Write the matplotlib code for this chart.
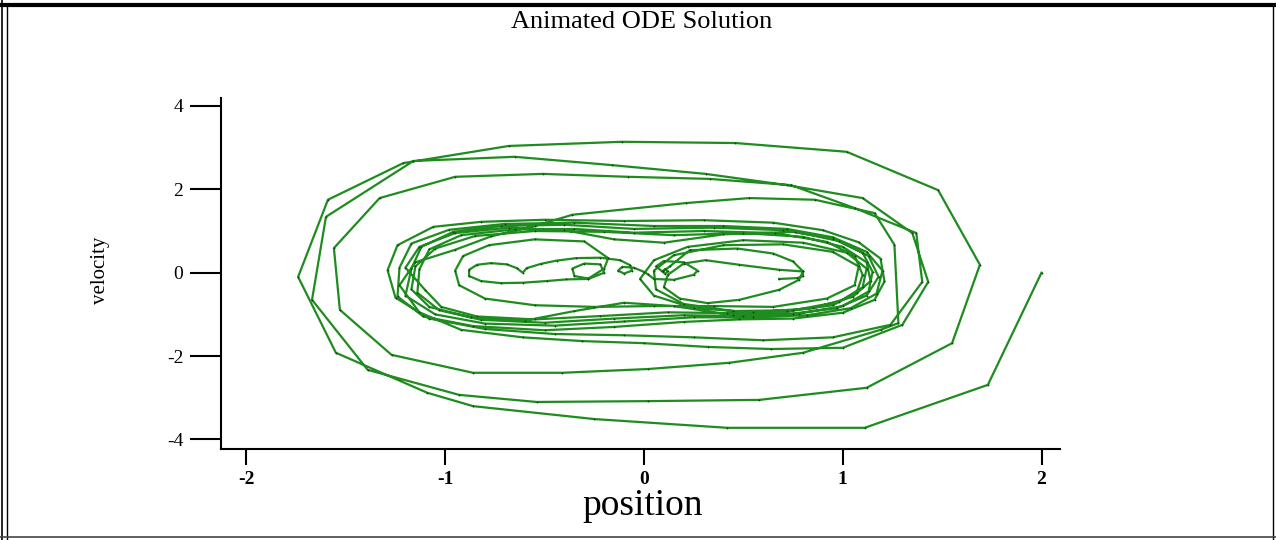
import matplotlib
matplotlib.use("Agg")
import matplotlib.pyplot as plt
from matplotlib.lines import Line2D
import numpy as np

# trajectory, in time order (position, velocity)
# outer spiral: first big swings
outer_pos = [2.00, 1.73, 1.11, 0.42, -0.25, -0.86, -1.09, -1.55, -1.74, -1.59, -1.21, -0.68, -0.11,
             0.46, 1.02, 1.48, 1.69, 1.55, 1.12,
             0.58, 0.02, -0.54, -0.93, -1.39, -1.67, -1.60, -1.16, -0.65, -0.16, 0.31, 0.72, 1.10,
             1.35, 1.43, 1.30, 1.00, 0.64, 0.32, 0.00, -0.31, -0.61, -0.92, -1.13, -1.23, -1.15, -0.95,
             -0.77, -0.55, -0.36, 0.21, 0.53, 0.86, 1.16, 1.26, 1.28,
             1.19, 0.80, 0.43, 0.02, -0.41, -0.86, -1.27, -1.53, -1.56, -1.33, -0.95, -0.51, -0.08,
             0.33, 0.74, 1.06, 1.37, 1.40, 1.24, 0.95, 0.60, 0.25, -0.10, -0.45, -0.80, -1.08, -1.25]
outer_vel = [0.00, -2.69, -3.72, -3.72, -3.51, -3.20, -2.88, -1.92, -0.10, 1.75, 2.63, 3.04, 3.14,
             3.11, 2.90, 1.98, 0.19, -1.69, -2.76,
             -3.05, -3.08, -3.10, -2.93, -2.33, -0.65, 1.34, 2.68, 2.78, 2.58, 2.37, 2.10, 1.79,
             0.95, -0.22, -1.25, -1.80, -1.83, -1.78, -1.69, -1.64, -1.55, -1.37, -0.95, -0.30, 0.25, 0.55,
             0.87, 1.12, 1.39, 1.67, 1.79, 1.75, 1.43, 0.67, -1.21,
             -1.37, -1.92, -2.16, -2.31, -2.40, -2.40, -1.97, -0.89, 0.59, 1.79, 2.30, 2.37, 2.30,
             2.25, 2.10, 1.55, 0.95, -0.22, -1.25, -1.55, -1.62, -1.55, -1.50, -1.47, -1.35, -1.10, -0.60]

# inner loops around both wells, then around the right well
inner_pos = [-1.29, -1.24, -1.06, -0.82, -0.50, -0.10, 0.30, 0.65, 0.90, 1.08, 1.19, 1.21, 1.16, 1.00,
             0.75, 0.48, 0.20, -0.15, -0.50, -0.86, -1.11, -1.24,
             -1.23, -1.17, -0.98, -0.70, -0.35, 0.05, 0.40, 0.72, 0.95, 1.12, 1.20, 1.17, 1.04,
             0.82, 0.55, 0.25, -0.10, -0.45, -0.80, -1.05, -1.20,
             -1.17, -1.12, -0.96, -0.72, -0.40, -0.05, 0.35, 0.70, 0.95, 1.10, 1.15, 1.13, 1.00,
             0.78, 0.50, 0.20, -0.15, -0.50, -0.82, -1.03, -1.14,
             -1.13, -1.08, -0.92, -0.65, -0.35, -0.05, 0.30, 0.66, 0.92, 1.06, 1.10, 1.07, 0.95,
             0.72, 0.42, 0.12, -0.22, -0.55, -0.84, -1.02, -1.10,
             -1.20, -1.13, -0.95, -0.68, -0.40, -0.15, 0.10, 0.40, 0.76, 0.98, 1.13, 1.18, 1.12, 0.97,
             0.75, 0.45, 0.15, -0.10, -0.35, -0.60, -0.87, -1.08, -1.17,
             -1.15, -1.05, -0.85, -0.55, -0.20, 0.15, 0.50, 0.80, 1.00, 1.12, 1.14, 1.05, 0.85,
             0.55, 0.25, 0.05, -0.02, 0.05, 0.22, 0.50, 0.80, 1.02, 1.12, 1.10, 0.98, 0.75, 0.45,
             0.20, 0.06, 0.05, 0.15, 0.40, 0.70, 0.95, 1.08, 1.06, 0.92, 0.65, 0.35, 0.05]
inner_vel = [0.06, 0.66, 1.10, 1.22, 1.27, 1.24, 1.26, 1.20, 1.02, 0.73, 0.34, -0.21, -0.65, -0.96,
             -1.10, -1.12, -1.18, -1.30, -1.38, -1.28, -1.05, -0.57,
             0.12, 0.70, 1.03, 1.17, 1.20, 1.12, 1.12, 1.05, 0.85, 0.50, 0.05, -0.50, -0.85,
             -1.02, -1.07, -1.07, -1.17, -1.27, -1.22, -1.00, -0.55,
             0.10, 0.62, 0.98, 1.12, 1.15, 1.05, 1.08, 1.02, 0.82, 0.48, 0.02, -0.45, -0.80,
             -0.98, -1.04, -1.02, -1.10, -1.20, -1.13, -0.90, -0.48,
             0.08, 0.56, 0.90, 1.04, 1.05, 0.96, 1.00, 0.95, 0.74, 0.40, -0.05, -0.48, -0.78,
             -0.93, -0.97, -0.95, -1.04, -1.12, -1.05, -0.82, -0.42,
             0.12, 0.62, 0.95, 1.08, 1.02, 0.80, 0.72, 0.92, 0.98, 0.76, 0.40, -0.10, -0.55, -0.85,
             -0.98, -1.02, -0.80, -0.72, -0.92, -1.15, -1.07, -0.82, -0.40,
             0.15, 0.58, 0.88, 1.00, 0.98, 0.90, 0.95, 0.86, 0.62, 0.25, -0.20, -0.58, -0.85,
             -0.95, -0.85, -0.55, -0.15, 0.30, 0.62, 0.78, 0.72, 0.48, 0.10, -0.35, -0.70, -0.90, -0.92,
             -0.75, -0.40, 0.05, 0.42, 0.66, 0.68, 0.50, 0.15, -0.30, -0.62, -0.82, -0.80, -0.80]

# left well, heart shaped loop, small loops and the end of the run
tail_pos = [-0.25, -0.55, -0.80, -0.93, -0.95, -0.91, -0.78, -0.55, -0.30, -0.18, -0.20,
            -0.28, -0.35, -0.36, -0.30, -0.22, -0.20, -0.28,
            -0.39, -0.49, -0.61, -0.72, -0.82, -0.88, -0.88, -0.84, -0.77, -0.69, -0.64, -0.61,
            -0.59, -0.52, -0.44, -0.34, -0.22, -0.12,
            -0.07, -0.06, -0.10, -0.13, -0.11, -0.05, 0.00, 0.02, 0.05, 0.15, 0.25, 0.27, 0.20,
            0.10, 0.06, 0.09, 0.106, 0.12, 0.106, 0.094, 0.13,
            0.23, 0.47, 0.65, 0.75, 0.80, 0.78, 0.68, 0.48, 0.32, 0.18, 0.10, 0.12, 0.20,
            0.31, 0.48, 0.68, 0.80, 0.80, 0.77, 0.68]
tail_vel = [-0.82, -0.78, -0.62, -0.30, 0.05, 0.40, 0.66, 0.80, 0.75, 0.35, 0.10,
            -0.14, -0.08, 0.10, 0.22, 0.20, 0.00, -0.15,
            -0.16, -0.20, -0.24, -0.25, -0.20, -0.08, 0.07, 0.19, 0.23, 0.20, 0.11, 0.00,
            0.11, 0.21, 0.29, 0.35, 0.36, 0.30,
            0.18, 0.05, -0.02, 0.05, 0.14, 0.12, 0.02, -0.04, -0.15, -0.17, -0.05, 0.05, 0.25,
            0.28, 0.15, 0.04, -0.025, 0.03, 0.085, 0.03, 0.15,
            0.54, 0.58, 0.46, 0.27, 0.03, -0.17, -0.41, -0.65, -0.73, -0.62, -0.35, -0.05, 0.22,
            0.30, 0.19, 0.07, 0.03, -0.08, -0.13, -0.15]

x_ticks = [-2, -1, 0, 1, 2]
y_ticks = [-4, -2, 0, 2, 4]

position = np.array(outer_pos + inner_pos + tail_pos)
velocity = np.array(outer_vel + inner_vel + tail_vel)

SERIF = ["Liberation Serif", "DejaVu Serif"]
W, H = 1276, 540

fig = plt.figure(figsize=(W / 100, H / 100), dpi=100)
ax = fig.add_axes([221 / W, (H - 449) / H, (1060 - 221) / W, (449 - 98) / H])

ax.plot(position, velocity, color="#1f8c1f", linewidth=1.6,
        marker="o", markersize=1.3, markerfacecolor="#1a3a1a", markeredgewidth=0)

ax.set_xlim(-2.128, 2.093)
ax.set_ylim(-4.228, 4.19)
ax.set_xticks(x_ticks)
ax.set_yticks(y_ticks)
ax.set_xticklabels([str(t) for t in x_ticks], fontfamily=SERIF, fontsize=14, fontweight="bold")
ax.set_yticklabels([str(t) for t in y_ticks], fontfamily=SERIF, fontsize=14)

for side in ["top", "right"]:
    ax.spines[side].set_visible(False)
for side in ["left", "bottom"]:
    ax.spines[side].set_linewidth(1.5)
ax.tick_params(axis="y", direction="out", length=22, width=1.5, pad=5)
ax.tick_params(axis="x", direction="out", length=11.5, width=1.5, pad=4)

# title and axis labels
fig.text(0.503, 1 - 22 / H, "Animated ODE Solution", ha="center", va="center",
         fontfamily=SERIF, fontsize=19)
fig.text(643 / W, 1 - 515 / H, "position", ha="center", va="baseline",
         fontfamily=SERIF, fontsize=27)
fig.text(100 / W, 1 - 270 / H, "velocity", ha="center", va="center", rotation=90,
         fontfamily=SERIF, fontsize=15)

# frame around the figure
def px_line(x0, y0, x1, y1, lw, color="black"):
    fig.add_artist(Line2D([x0 / W, x1 / W], [1 - y0 / H, 1 - y1 / H],
                          transform=fig.transFigure, color=color, linewidth=lw))

px_line(0, 4.5, W, 4.5, 3.0)
px_line(2, 0, 2, H, 1.2)
px_line(6.5, 4, 6.5, H, 1.0)
px_line(W - 3, 4, W - 3, H, 1.0)
px_line(0, H - 3, W, H - 3, 1.2, "#444444")

fig.savefig("out.png", dpi=100)
